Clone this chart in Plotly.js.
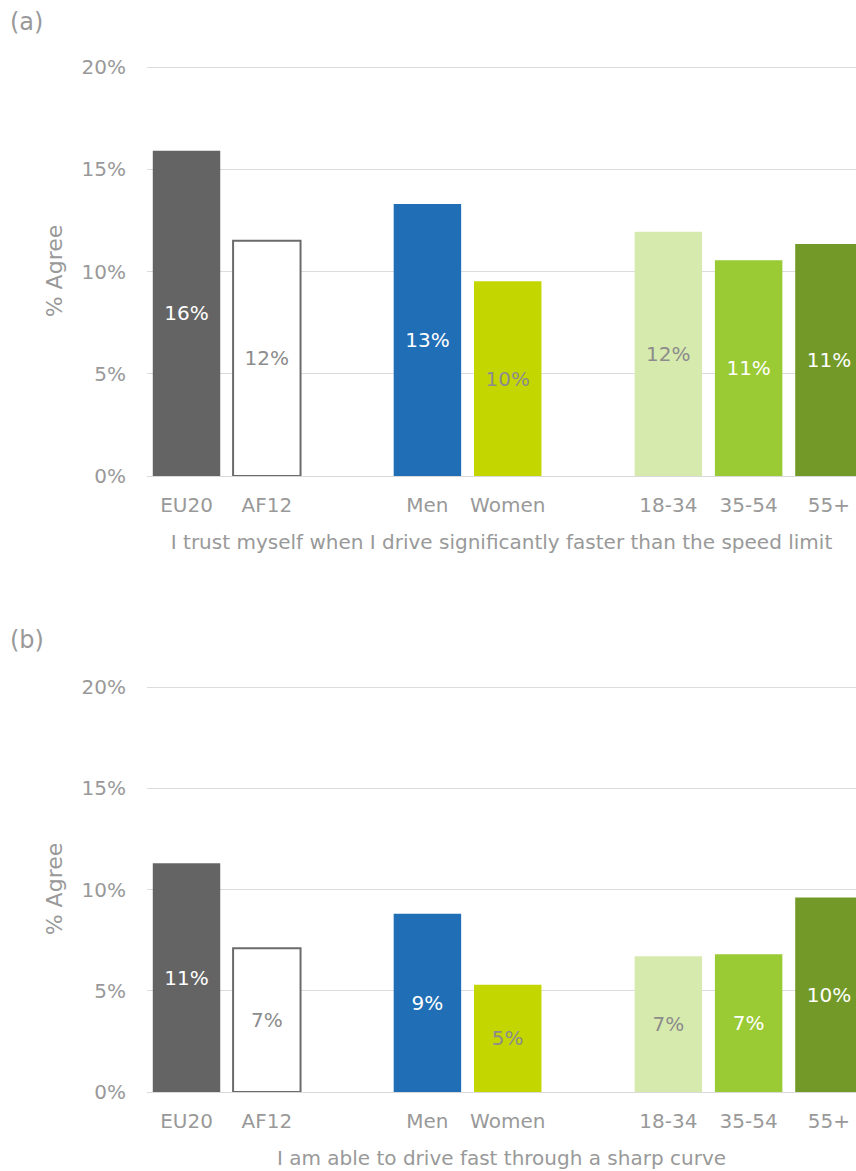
<!DOCTYPE html>
<html>
<head>
<meta charset="utf-8">
<script src="https://cdn.plot.ly/plotly-3.0.1.min.js"></script>
<style>html,body{margin:0;padding:0;background:#fff;}#chart{width:856px;height:1171px;}</style>
</head>
<body>
<div id="chart"></div>
<script>
var categories = ["EU20", "AF12", "Men", "Women", "18-34", "35-54", "55+"];
var slots = [0, 1, 3, 4, 6, 7, 8];
var trustValues = [15.9, 11.5, 13.3, 9.52, 11.95, 10.55, 11.35];
var curveValues = [11.3, 7.1, 8.8, 5.3, 6.7, 6.8, 9.6];
var yTicks = [0, 5, 10, 15, 20];
var yTickLabels = ["0%", "5%", "10%", "15%", "20%"];
var titleA = "I trust myself when I drive significantly faster than the speed limit";
var titleB = "I am able to drive fast through a sharp curve";

var barColors = ["#646464", "#ffffff", "#206eb5", "#c4d600", "#d7eaad", "#9aca34", "#739a28"];
var lineColors = ["#646464", "#6b6b6b", "#206eb5", "#c4d600", "#d7eaad", "#9aca34", "#739a28"];
var lineWidths = [0, 2, 0, 0, 0, 0, 0];
var labelColors = ["#ffffff", "#8c8c8c", "#ffffff", "#8c8c8c", "#8c8c8c", "#ffffff", "#ffffff"];

var W = 856, H = 1171;
var FONT = "DejaVu Sans, Verdana, sans-serif";
var GRAY = "#999999";

function barTrace(vals, xa, ya) {
  return {
    type: "bar", x: slots, y: vals, xaxis: xa, yaxis: ya,
    width: 0.84,
    marker: {color: barColors, line: {color: lineColors, width: lineWidths}},
    texttemplate: "%{y:.0f}%",
    textposition: "inside",
    insidetextanchor: "middle",
    textangle: 0,
    constraintext: "none",
    insidetextfont: {family: FONT, size: 20, color: labelColors},
    hoverinfo: "skip",
    showlegend: false
  };
}

function xAxis(anchor, title) {
  return {
    domain: [147 / W, 1], anchor: anchor,
    range: [-0.492, 8.337],
    tickvals: slots, ticktext: categories,
    tickfont: {family: FONT, size: 20, color: GRAY},
    ticks: "", ticklabelstandoff: 11,
    showgrid: false, zeroline: false,
    showline: true, linecolor: "#d9d9d9", linewidth: 1,
    title: {text: title, font: {family: FONT, size: 20, color: GRAY}, standoff: 18},
    automargin: false, fixedrange: true
  };
}

function yAxis(anchor, dom) {
  return {
    domain: dom, anchor: anchor,
    range: [0, 20.05],
    tickvals: yTicks, ticktext: yTickLabels,
    tickfont: {family: FONT, size: 20, color: GRAY},
    ticks: "", ticklabelstandoff: 20,
    showgrid: true, gridcolor: "#dcdcdc", gridwidth: 1,
    zeroline: false, showline: false,
    title: {text: "% Agree", font: {family: FONT, size: 22, color: GRAY}, standoff: 12},
    automargin: false, fixedrange: true
  };
}

var data = [barTrace(trustValues, "x", "y"), barTrace(curveValues, "x2", "y2")];

var layout = {
  width: W, height: H,
  margin: {l: 0, r: 0, t: 0, b: 0},
  paper_bgcolor: "#ffffff", plot_bgcolor: "#ffffff",
  font: {family: FONT, color: GRAY},
  xaxis: xAxis("y", titleA),
  yaxis: yAxis("x", [(H - 476) / H, (H - 66) / H]),
  xaxis2: xAxis("y2", titleB),
  yaxis2: yAxis("x2", [(H - 1092) / H, (H - 686) / H]),
  annotations: [
    {text: "(a)", xref: "paper", yref: "paper", x: 8 / W, y: (H - 22) / H, xanchor: "left", yanchor: "middle",
     showarrow: false, font: {family: FONT, size: 24, color: GRAY}},
    {text: "(b)", xref: "paper", yref: "paper", x: 8 / W, y: (H - 640) / H, xanchor: "left", yanchor: "middle",
     showarrow: false, font: {family: FONT, size: 24, color: GRAY}}
  ]
};

Plotly.newPlot("chart", data, layout, {displayModeBar: false, staticPlot: true});
</script>
</body>
</html>
